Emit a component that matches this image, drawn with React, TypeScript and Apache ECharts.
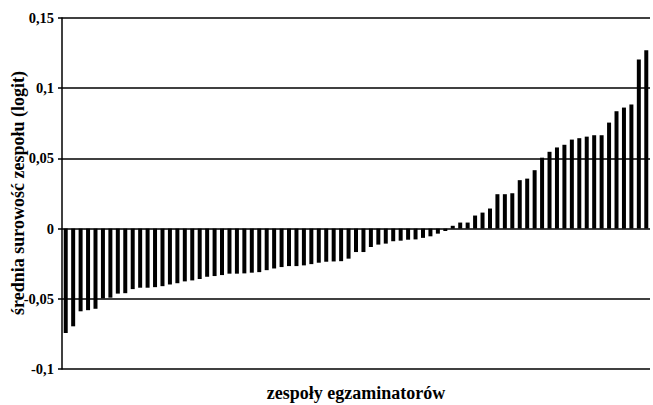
import React, { useEffect, useRef } from "react";
import * as echarts from "echarts";

const values: number[] = [
  -0.0743, -0.0696, -0.0589, -0.0581, -0.0571, -0.0497, -0.0492, -0.0463, -0.046, -0.0431,
  -0.0421, -0.0421, -0.0417, -0.041, -0.0398, -0.0389, -0.0376, -0.0369, -0.0359, -0.0343,
  -0.0338, -0.0331, -0.0321, -0.0321, -0.0319, -0.0314, -0.031, -0.0296, -0.0284, -0.0274,
  -0.0267, -0.0267, -0.0262, -0.0253, -0.0243, -0.0236, -0.0234, -0.0232, -0.0214, -0.0167,
  -0.0167, -0.0131, -0.0114, -0.0107, -0.009, -0.0086, -0.0079, -0.0077, -0.0066, -0.0055,
  -0.0036, -0.0017, 0.002, 0.0043, 0.0043, 0.0093, 0.0114, 0.0143, 0.0245, 0.0245,
  0.0252, 0.0345, 0.0356, 0.0416, 0.0505, 0.0547, 0.0578, 0.0597, 0.0634, 0.0644,
  0.0655, 0.0665, 0.0665, 0.0755, 0.0836, 0.0862, 0.0884, 0.1204, 0.127,
];
const categories: string[] = values.map((_, i) => String(i + 1));
const yTickLabels: Record<string, string> = {
  "-0.1": "-0,1",
  "-0.05": "-0,05",
  "0": "0",
  "0.05": "0,05",
  "0.1": "0,1",
  "0.15": "0,15",
};
const xAxisTitle = "zespoły egzaminatorów";
const yAxisTitle = "średnia surowość zespołu (logit)";

export default function App() {
  const ref = useRef<HTMLDivElement>(null);
  useEffect(() => {
    if (!ref.current) return;
    const chart = echarts.init(ref.current, null, { renderer: "svg" });
    const font = "'Liberation Serif', 'Times New Roman', serif";
    chart.setOption({
      animation: false,
      backgroundColor: "#ffffff",
      grid: { left: 62, right: 3, top: 18, bottom: 36, containLabel: false, outerBoundsMode: "none" },
      graphic: [
        {
          type: "text",
          x: 18,
          y: 193,
          rotation: Math.PI / 2,
          style: {
            text: yAxisTitle,
            fontFamily: font,
            fontWeight: "bold",
            fontSize: 18,
            fill: "#000",
            align: "center",
            verticalAlign: "middle",
          },
        },
      ],
      xAxis: {
        type: "category",
        data: categories,
        axisLine: { show: false },
        axisTick: { show: false },
        axisLabel: { show: false },
        name: xAxisTitle,
        nameLocation: "middle",
        nameGap: 15,
        nameTextStyle: { fontFamily: font, fontWeight: "bold", fontSize: 18, color: "#000" },
      },
      yAxis: {
        type: "value",
        min: -0.1,
        max: 0.15,
        interval: 0.05,
        axisLine: { show: true, lineStyle: { color: "#000", width: 1.5 } },
        axisTick: { show: true, inside: false, length: 4, lineStyle: { color: "#000", width: 1.5 } },
        axisLabel: {
          fontFamily: font,
          fontWeight: "bold",
          fontSize: 14.5,
          color: "#000",
          margin: 8,
          formatter: (v: number) => {
            const k = String(Math.round(v * 100) / 100);
            return yTickLabels[k] ?? k;
          },
        },
        splitLine: { show: true, lineStyle: { color: "#000", width: 1.5 } },
      },
      series: [
        {
          type: "bar",
          data: values,
          barWidth: 4,
          itemStyle: { color: "#000" },
        },
      ],
    });
    return () => chart.dispose();
  }, []);
  return (
    <div
      ref={ref}
      style={{ position: "fixed", left: 0, top: 0, width: 653, height: 405 }}
    />
  );
}
